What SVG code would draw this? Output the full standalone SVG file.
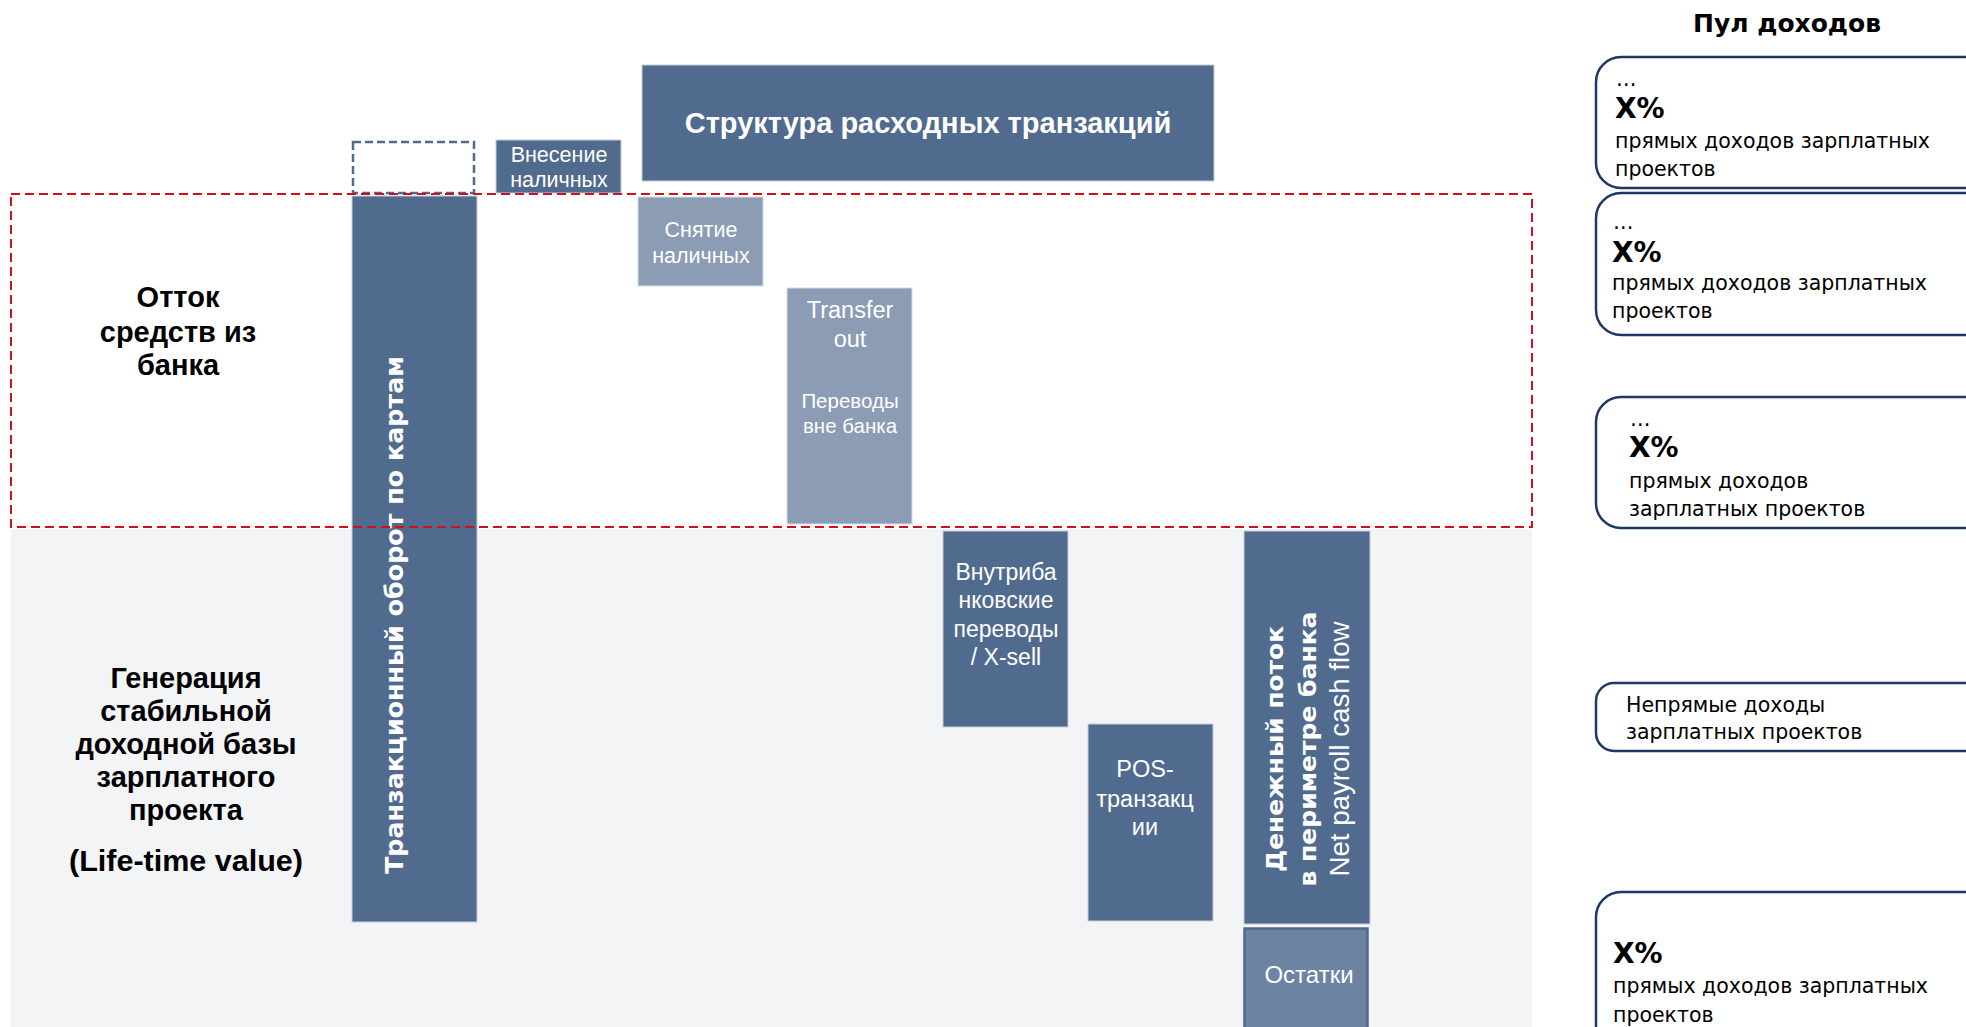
<svg xmlns="http://www.w3.org/2000/svg" width="1966" height="1027" viewBox="0 0 1966 1027">
<style>
.dark{fill:#516B8F;stroke:#C5CEDA;stroke-width:1}
.light{fill:#8C9CB4;stroke:#D5DBE4;stroke-width:1}
.lbl{font-family:"Liberation Sans",Arial,sans-serif;fill:#FFFFFF;text-anchor:middle}
.pool{fill:#FFFFFF;stroke:#1F3864;stroke-width:2.5}
.pt{font-family:"DejaVu Sans",Verdana,sans-serif;font-size:20.5px;fill:#000000}
.px{font-family:"DejaVu Sans",Verdana,sans-serif;font-size:28px;font-weight:bold;fill:#000000}
.side{font-family:"Liberation Sans",Arial,sans-serif;font-weight:bold;font-size:29px;fill:#000000;text-anchor:middle}
.vb{font-family:"DejaVu Sans",Verdana,sans-serif;font-weight:bold;fill:#FFFFFF}
</style>
<rect x="0" y="0" width="1966" height="1027" fill="#FFFFFF"/>
<g id="zone-generation-bg">
<rect x="11" y="529" width="1521" height="498" fill="#F3F4F6"/>
</g>
<g id="title-pool">
<text x="1787" y="32" font-family="DejaVu Sans, Verdana, sans-serif" font-weight="bold" font-size="25" text-anchor="middle" fill="#000">Пул доходов</text>
</g>
<g id="node-structure">
<rect class="dark" x="642" y="65" width="572" height="116"/>
<text class="lbl" x="928" y="133" font-size="29" font-weight="bold">Структура расходных транзакций</text>
</g>
<g id="node-placeholder">
<rect x="353" y="142" width="121" height="51" fill="none" stroke="#516B8F" stroke-width="2.5" stroke-dasharray="8 4"/>
</g>
<g id="node-deposit">
<rect class="dark" x="496" y="140" width="125" height="53"/>
<text class="lbl" x="559" y="162" font-size="21.5">Внесение</text>
<text class="lbl" x="559" y="187" font-size="21.5">наличных</text>
</g>
<g id="node-turnover">
<rect class="dark" x="352" y="196" width="125" height="726"/>
<text class="vb" transform="translate(403,874) rotate(-90)" font-size="25" textLength="518" lengthAdjust="spacingAndGlyphs">Транзакционный оборот по картам</text>
</g>
<g id="node-withdraw">
<rect class="light" x="638" y="197" width="125" height="89"/>
<text class="lbl" x="701" y="237" font-size="21.5">Снятие</text>
<text class="lbl" x="701" y="263" font-size="21.5">наличных</text>
</g>
<g id="node-transfer-out">
<rect class="light" x="787" y="288" width="125" height="236"/>
<text class="lbl" x="850" y="318" font-size="23.5">Transfer</text>
<text class="lbl" x="850" y="347" font-size="23.5">out</text>
<text class="lbl" x="850" y="408" font-size="20.5">Переводы</text>
<text class="lbl" x="850" y="433" font-size="20.5">вне банка</text>
</g>
<g id="node-intrabank">
<rect class="dark" x="943" y="531" width="125" height="196"/>
<text class="lbl" x="1006" y="580" font-size="23">Внутриба</text>
<text class="lbl" x="1006" y="608" font-size="23">нковские</text>
<text class="lbl" x="1006" y="637" font-size="23">переводы</text>
<text class="lbl" x="1006" y="665" font-size="23">/ X-sell</text>
</g>
<g id="node-pos">
<rect class="dark" x="1088" y="724" width="125" height="197"/>
<text class="lbl" x="1145" y="777" font-size="23.5">POS-</text>
<text class="lbl" x="1145" y="807" font-size="23.5">транзакц</text>
<text class="lbl" x="1145" y="835" font-size="23.5">ии</text>
</g>
<g id="node-netflow">
<rect class="dark" x="1244" y="531" width="126" height="393"/>
<text class="vb" transform="translate(1283,749) rotate(-90)" font-size="23" text-anchor="middle" textLength="246" lengthAdjust="spacingAndGlyphs">Денежный поток</text>
<text class="vb" transform="translate(1316,749) rotate(-90)" font-size="23" text-anchor="middle" textLength="275" lengthAdjust="spacingAndGlyphs">в периметре банка</text>
<text transform="translate(1349,749) rotate(-90)" font-family="Liberation Sans, Arial, sans-serif" font-size="27" fill="#FFFFFF" text-anchor="middle" textLength="255" lengthAdjust="spacingAndGlyphs">Net payroll cash flow</text>
</g>
<g id="node-balances">
<rect x="1244.5" y="928.5" width="123" height="110" fill="#6C83A1" stroke="#4F6A8F" stroke-width="2.5"/>
<text class="lbl" x="1309" y="983" font-size="24">Остатки</text>
</g>
<g id="zone-outflow">
<rect x="11" y="194" width="1521" height="333" fill="none" stroke="#D0101A" stroke-width="2" stroke-dasharray="9 5"/>
<text class="side" x="178" y="307" font-family="DejaVu Sans, Verdana, sans-serif" font-size="25">Отток</text>
<text class="side" x="178" y="342" font-family="DejaVu Sans, Verdana, sans-serif" font-size="25">средств из</text>
<text class="side" x="178" y="375" font-family="DejaVu Sans, Verdana, sans-serif" font-size="25">банка</text>
</g>
<g id="label-generation">
<text class="side" x="186" y="688">Генерация</text>
<text class="side" x="186" y="721">стабильной</text>
<text class="side" x="186" y="754">доходной базы</text>
<text class="side" x="186" y="787">зарплатного</text>
<text class="side" x="186" y="820">проекта</text>
<text class="side" x="186" y="871" textLength="234" lengthAdjust="spacingAndGlyphs">(Life-time value)</text>
</g>
<g id="pool-1">
<rect class="pool" x="1596" y="57" width="420" height="131" rx="25"/>
<text class="pt" x="1616" y="86" font-size="18">…</text>
<text class="px" x="1615" y="118">X%</text>
<text class="pt" x="1615" y="148">прямых доходов зарплатных</text>
<text class="pt" x="1615" y="176">проектов</text>
</g>
<g id="pool-2">
<rect class="pool" x="1596" y="193" width="420" height="142" rx="25"/>
<text class="pt" x="1613" y="229" font-size="18">…</text>
<text class="px" x="1612" y="262">X%</text>
<text class="pt" x="1612" y="290">прямых доходов зарплатных</text>
<text class="pt" x="1612" y="318">проектов</text>
</g>
<g id="pool-3">
<rect class="pool" x="1596" y="397" width="420" height="131" rx="25"/>
<text class="pt" x="1630" y="426" font-size="18">…</text>
<text class="px" x="1629" y="457">X%</text>
<text class="pt" x="1629" y="488">прямых доходов</text>
<text class="pt" x="1629" y="516">зарплатных проектов</text>
</g>
<g id="pool-4">
<rect class="pool" x="1596" y="683" width="420" height="68" rx="18"/>
<text class="pt" x="1626" y="712">Непрямые доходы</text>
<text class="pt" x="1626" y="739">зарплатных проектов</text>
</g>
<g id="pool-5">
<rect class="pool" x="1596" y="892" width="420" height="160" rx="25"/>
<text class="px" x="1613" y="963">X%</text>
<text class="pt" x="1613" y="993">прямых доходов зарплатных</text>
<text class="pt" x="1613" y="1022">проектов</text>
</g>
<g id="connectors"></g>
</svg>
